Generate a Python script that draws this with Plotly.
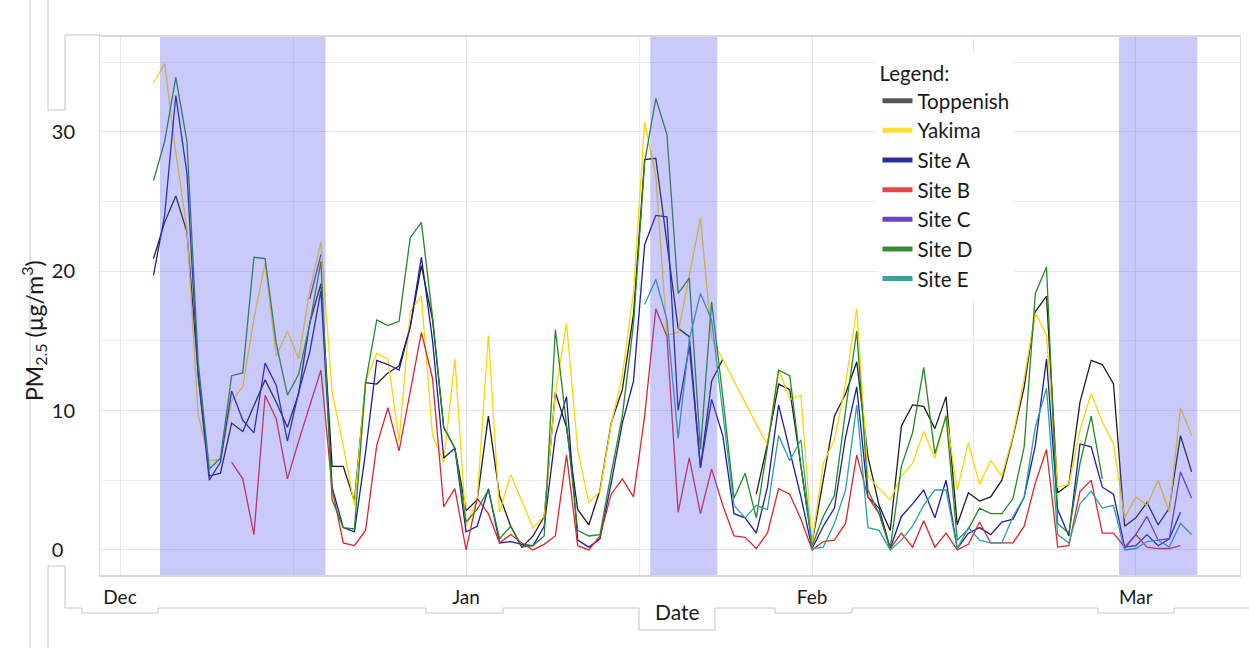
import pandas as pd
import plotly.graph_objects as go

start_date = "2019-12-04"
n_days = 94

toppenish = [20.9, 23.5, 25.4, 22.8, 12.7, 5.3, 5.5, 9.1, 8.5, 10.3, 12.2, 10.6, 8.8, 11.2, 16.3, 19.1,
             6.0, 6.0, 3.5, 12.0, 11.9, 12.7, 13.2, 16.0, 20.4, 16.5, 8.8, 7.3,
             2.8, 3.6, 9.6, 3.9, 1.7, 0.2, 1.0, 2.4, 11.3, 8.8, 2.9, 1.8, 4.3, 9.1, 11.5, 16.9,
             28.0, 28.1, 22.0, 15.9, 15.3, 5.9, 12.1, 13.7, None, None, 4.0, 7.6, 11.9, 11.5, 6.0,
             0.5, 5.0, 9.6, 11.2, 13.5, 6.7, 3.2, 1.4, 8.9, 10.4, 10.3, 8.7, 11.0, 1.8, 4.1, 3.5,
             3.8, 5.0, 8.1, 11.7, 17.1, 18.2, 4.1, 4.7, 10.6, 13.6, 13.3, 11.9, 1.7,
             2.3, 3.4, 1.8, 3.0, 8.2, 5.6]
yakima = [33.5, 34.9, 28.5, 23.0, 9.7, 6.4, 6.5, 10.7, 11.7, 16.6, 20.6, 13.9, 15.7, 13.7, 18.6, 22.1,
          11.3, 7.5, 3.2, 12.1, 14.1, 13.7, 7.8, 17.1, 18.2, 8.2, 6.3, 13.7,
          1.7, 3.6, 15.4, 2.7, 5.4, 3.5, 1.6, 2.4, 11.2, 16.3, 7.2, 3.4, 4.2, 9.0, 12.5, 18.5,
          30.7, 26.8, 15.4, 15.6, 19.6, 23.8, 15.2, None, None, None, None, 7.5, 13.0, 10.8, 11.1,
          0.5, 6.2, 7.9, 11.9, 17.3, 5.3, 4.4, 3.6, 5.3, 6.2, 8.5, 6.6, 9.7, 4.3, 7.7, 4.7,
          6.4, 5.3, 8.2, 12.3, 17.0, 15.4, 4.5, 4.7, 8.6, 11.2, 9.2, 7.6, 2.3,
          3.8, 3.2, 5.0, 2.7, 10.2, 8.2]
site_a = [19.7, 24.0, 32.6, 27.0, 12.5, 5.0, 6.3, 11.4, 9.3, 8.4, 13.4, 11.8, 7.8, 11.3, 14.2, 18.6,
          4.5, 1.6, 1.3, 7.0, 13.6, 13.3, 12.9, 16.0, 21.0, 15.0, 6.6, 7.3,
          1.3, 1.7, 4.4, 0.5, 0.6, 0.4, 0.3, 1.7, 8.2, 11.0, 0.7, 0.2, 0.8, 4.8, 9.1, 12.1,
          21.9, 24.0, 23.9, 10.0, 14.6, 5.9, 10.8, 8.2, 2.6, 2.3, 1.2, 4.5, 10.4, 7.2, 3.8,
          0.1, 1.7, 3.0, 8.1, 11.7, 3.8, 3.0, 0.1, 2.4, 3.3, 4.3, 2.3, 5.0, 0.1, 1.2, 1.6,
          1.1, 2.0, 2.2, 3.8, 7.5, 13.7, 2.9, 1.0, 7.6, 7.4, 4.5, 4.0, 0.2,
          0.3, 1.1, 0.3, 0.8, 2.7, None]
site_b = [None, None, None, None, None, None, None, 6.3, 5.1, 1.1, 11.1, 9.4, 5.1, 7.8, 10.4, 12.9,
          4.4, 0.5, 0.3, 1.4, 7.5, 10.2, 7.1, 11.3, 15.6, 12.3, 3.1, 4.4,
          0.0, 3.7, 2.6, 0.5, 1.1, 0.5, 0.0, 0.4, 1.0, 6.8, 0.3, 0.0, 1.0, 4.0, 5.1, 3.8,
          9.6, 17.3, 15.3, 2.7, 6.6, 2.6, 5.8, 3.2, 1.0, 0.9, 0.1, 1.2, 4.4, 4.0, 2.2,
          0.0, 0.6, 0.7, 1.9, 6.8, 3.8, 2.6, 0.1, 1.2, 0.2, 2.1, 0.2, 1.2, 0.0, 0.4, 2.0,
          0.5, 0.5, 0.5, 1.7, 4.8, 7.2, 0.2, 0.3, 4.2, 5.0, 1.2, 1.2, 0.2,
          1.1, 0.2, 0.1, 0.1, 0.3, None]
site_c = [None] * 14 + [18.0, 21.2] + [None] * 71 + [0.1, 1.1, 2.4, 0.7, 0.8, 5.6, 3.7]
site_d = [26.5, 29.3, 33.9, 29.3, 13.5, 5.8, 6.6, 12.5, 12.7, 21.0, 20.9, 14.8, 11.1, 12.6, 16.2, 20.7,
          3.6, 1.6, 1.5, 12.0, 16.5, 16.1, 16.4, 22.4, 23.5, 16.7, 8.8, 7.3,
          2.0, 2.9, 4.3, 0.8, 1.7, 0.2, 0.3, 1.0, 15.8, 9.0, 1.4, 1.0, 1.1, 5.5, 9.6, 16.2,
          27.8, 32.4, 29.8, 18.4, 19.5, 7.2, 17.8, 11.0, 3.7, 5.5, 2.3, 7.4, 12.9, 12.5, 6.0,
          0.3, 2.4, 3.9, 10.0, 15.7, 4.3, 2.6, 0.1, 6.0, 8.4, 13.1, 6.9, 9.6, 0.7, 1.5, 3.0,
          2.6, 2.6, 3.7, 7.4, 18.4, 20.3, 1.9, 1.2, 6.2, 9.6, 5.1, None, None,
          None, None, None, None, None, None]
site_e = [None] * 44 + [17.6, 19.4, 16.5, 8.0, 15.1, 18.4, 16.5, 9.7, 3.2, 2.3, 3.2, 2.9, 8.2, 6.4, 7.9,
          0.1, 0.2, 1.9, 4.3, 10.4, 1.6, 1.4, 0.0, 0.7, 1.7, 3.2, 4.3, 4.3, 0.1, 1.6, 0.7,
          0.5, 0.5, 2.4, 3.8, 8.8, 11.6, 1.1, 0.5, 3.3, 4.2, 3.0, 3.2, 0.0,
          0.1, 0.6, 0.7, 0.2, 1.9, 1.1]

series_names = ["Toppenish", "Yakima", "Site A", "Site B", "Site C", "Site D", "Site E"]
series_values = [toppenish, yakima, site_a, site_b, site_c, site_d, site_e]
line_colors = ["#1e1e1e", "#FFD500", "#1c1ca8", "#e0262b", "#6434c4", "#228a22", "#2aa0a6"]
legend_colors = ["#555555", "#FFE033", "#2e2e9e", "#e04848", "#7044c0", "#3a8a3a", "#3aa2a4"]
connect = [False, True, False, False, False, False, False]

shade_periods = [("2019-12-04 14:00", "2019-12-19 10:00"),
                 ("2020-01-17 12:00", "2020-01-23 12:00"),
                 ("2020-02-28 12:00", "2020-03-06 12:00")]

month_ticks = ["2019-12-01", "2020-01-01", "2020-02-01", "2020-03-01"]
month_labels = ["Dec", "Jan", "Feb", "Mar"]
mid_month = ["2019-12-16 12:00", "2020-01-16 12:00", "2020-02-15 12:00"]
y_ticks = [0, 10, 20, 30]
y_labels = ["0\u2007", "10", "20", "30"]
y_title = "PM<sub>2.5</sub> (µg/m<sup>3</sup>)"
x_title = "Date"

dates = pd.date_range(start_date, periods=n_days, freq="D")

FONT = "Lato, 'Open Sans', sans-serif"
fig = go.Figure()

for name, vals, col, cg in zip(series_names, series_values, line_colors, connect):
    fig.add_trace(go.Scatter(x=dates, y=vals, mode="lines", name=name,
                             line=dict(color=col, width=1.3), connectgaps=cg,
                             showlegend=False))
for name, col in zip(series_names, legend_colors):
    fig.add_trace(go.Scatter(x=[None], y=[None], mode="lines", name=name,
                             line=dict(color=col, width=5), showlegend=True))

shapes = []
for a, b in shade_periods:
    shapes.append(dict(type="rect", xref="x", yref="paper", x0=a, x1=b, y0=0, y1=1,
                       fillcolor="rgb(95,95,240)", opacity=0.33, line=dict(width=0),
                       layer="above"))

L, R, T, B = 100, 1240, 37, 575
def px(x):
    return (x - L) / (R - L)
def py(y):
    return (B - y) / (B - T)
segs = [
    (30, 0, 30, 648), (48, 0, 48, 110), (48, 110, 65, 110), (65, 110, 65, 35), (65, 35, 100, 35),
    (48, 648, 48, 566), (48, 566, 65, 566), (65, 566, 65, 608),
    (65, 608, 82, 608), (82, 608, 82, 613), (82, 613, 158, 613), (158, 613, 158, 608),
    (158, 608, 426, 608), (426, 608, 426, 613), (426, 613, 503, 613), (503, 613, 503, 608),
    (503, 608, 639, 608), (639, 608, 639, 630), (639, 630, 715, 630), (715, 630, 715, 608),
    (715, 608, 775, 608), (775, 608, 775, 613), (775, 613, 852, 613), (852, 613, 852, 608),
    (852, 608, 1098, 608), (1098, 608, 1098, 613), (1098, 613, 1174, 613), (1174, 613, 1174, 608),
    (1174, 608, 1249, 608),
]
for x0, y0, x1, y1 in segs:
    shapes.append(dict(type="line", xref="paper", yref="paper", x0=px(x0), y0=py(y0),
                       x1=px(x1), y1=py(y1), line=dict(color="#c4c4c4", width=1), layer="below"))

annotations = [
    dict(text=y_title, xref="paper", yref="paper", x=px(33), y=py(331),
         xanchor="center", yanchor="middle", textangle=-90, showarrow=False,
         font=dict(size=23, family=FONT, color="#1a1a1a")),
    dict(text=x_title, xref="paper", yref="paper", x=px(677), y=py(611),
         xanchor="center", yanchor="middle", showarrow=False,
         font=dict(size=21, family=FONT, color="#1a1a1a")),
]

fig.update_layout(
    width=1249, height=648,
    margin=dict(l=L, r=1249 - R, t=T, b=648 - B),
    paper_bgcolor="white", plot_bgcolor="white",
    font=dict(family=FONT, size=19, color="#1a1a1a"),
    shapes=shapes,
    annotations=annotations,
    showlegend=True,
    legend=dict(x=0.682, y=0.968, xanchor="left", yanchor="top",
                bgcolor="white", borderwidth=0,
                title=dict(text="Legend:", font=dict(size=20.5)),
                font=dict(size=20.5, family=FONT), tracegroupgap=0, itemwidth=30),
)
fig.update_xaxes(
    range=["2019-11-29 05:00", "2020-03-10 08:00"],
    tickmode="array", tickvals=month_ticks, ticktext=month_labels,
    showgrid=True, gridcolor="#e6e6e6", gridwidth=1,
    minor=dict(tickmode="array", tickvals=mid_month, showgrid=True, gridcolor="#ececec", gridwidth=1),
    showline=True, linecolor="#d8d8d8", linewidth=2, mirror=True,
    ticks="", ticklabelstandoff=4, tickfont=dict(size=19),
    zeroline=False,
)
fig.update_yaxes(
    range=[-1.8, 36.8],
    tickmode="array", tickvals=y_ticks, ticktext=y_labels,
    showgrid=True, gridcolor="#e6e6e6", gridwidth=1,
    minor=dict(tickmode="array", tickvals=[5, 15, 25, 35], showgrid=True, gridcolor="#ececec", gridwidth=1),
    showline=True, linecolor="#dcdcdc", linewidth=1, mirror=True,
    ticks="", ticklabelstandoff=20, tickfont=dict(size=20),
    zeroline=False,
)

fig.write_html("out.html")
